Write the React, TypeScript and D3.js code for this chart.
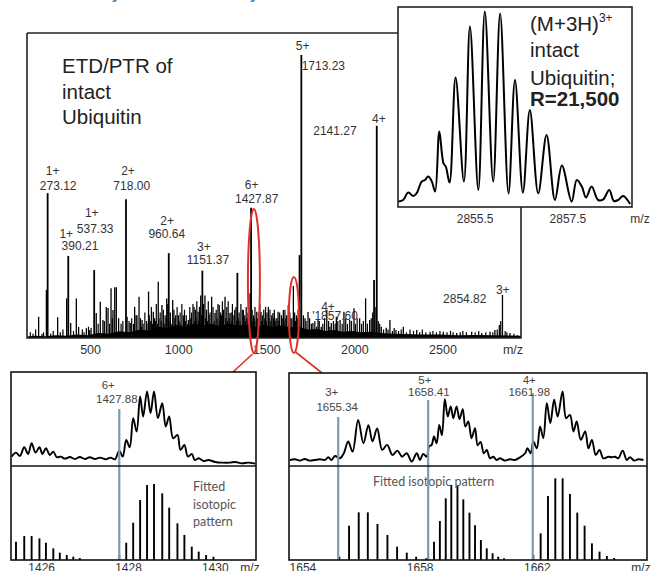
import * as d3 from "d3";

const FONT = "'Liberation Sans', Arial, sans-serif";

// ETD/PTR spectrum, [m/z, relative intensity %]
const mainPeaks: [number, number][] = [
  [222, 7.5], [241, 1.4], [266, 17], [273.12, 51.2], [330, 7.3], [381, 14], [390.21, 29],
  [404, 5.3], [436, 14], [449, 3.9], [493, 3.5], [512, 2.8], [537.33, 24], [549, 8.8],
  [572, 12.8], [587, 6.4], [606, 11], [616, 10.6], [633, 17.6], [644, 9.9], [654, 17.9],
  [663, 17.9], [676, 7], [718.0, 49], [724, 7.5], [742, 5.3], [767, 11], [780, 8],
  [792, 14.6], [809, 6.4], [846, 16.4], [873, 9.3], [901, 19.9], [922, 11.7], [949, 14],
  [960.64, 30], [983, 13.4], [1015, 8], [1043, 8], [1072, 6.4], [1104, 11], [1127, 9.3],
  [1142, 15], [1151.37, 23.8], [1166, 15], [1204, 14.6], [1223, 8.8], [1247, 11.7],
  [1280, 14.6], [1308, 8.8], [1350, 23], [1384, 9.9], [1422, 15.8], [1427.87, 46],
  [1460, 9.3], [1484, 9.2], [1526, 11], [1552, 8.8], [1581, 9.3], [1611, 9.9], [1639, 11.7],
  [1668, 18.4], [1703, 29.3], [1713.23, 100], [1734, 7], [1751, 9.2], [1779, 5.3],
  [1808, 6.4], [1826, 4], [1857.6, 9.9], [1883, 5.3], [1912, 7.5], [1933, 6.4], [1955, 9.3],
  [1988, 6.4], [2012, 10.5], [2044, 7], [2078, 14], [2101, 6.4], [2126, 20.5], [2141.27, 75],
  [2167, 4], [2195, 3.6], [2216, 6.4], [2250, 2.8], [2292, 4], [2368, 2.8], [2444, 2.2],
  [2519, 2.2], [2595, 1.8], [2680, 2.2], [2737, 1.8], [2784, 2.2], [2812, 2.8], [2837, 4.6],
  [2854.82, 15.2], [2897, 1.8],
];

// low-level grass between the labelled peaks
const grassPeaks: [number, number][] = [
  [175, 2], [190, 1.5], [205, 3], [250, 2], [290, 1.5], [305, 2.5], [345, 2], [360, 3],
  [420, 2.5], [470, 3], [480, 2], [505, 4], [520, 3.5], [560, 5], [595, 6], [625, 5],
  [640, 7], [690, 5], [700, 6], [735, 6], [750, 7], [760, 5], [775, 8], [800, 7], [815, 5],
  [825, 9], [835, 6], [850, 8], [862, 11], [880, 7], [890, 12], [912, 9], [930, 10],
  [940, 8], [955, 12], [970, 9], [990, 10], [1000, 8], [1008, 11], [1025, 9], [1035, 12],
  [1050, 10], [1060, 8], [1080, 11], [1090, 9], [1098, 12], [1112, 10], [1120, 13],
  [1135, 11], [1158, 12], [1175, 10], [1185, 13], [1195, 9], [1212, 11], [1230, 10],
  [1240, 12], [1255, 9], [1265, 13], [1272, 10], [1290, 11], [1298, 13], [1315, 9],
  [1322, 12], [1335, 10], [1342, 11], [1360, 9], [1370, 12], [1378, 10], [1392, 8],
  [1400, 11], [1410, 9], [1434, 10], [1442, 8], [1450, 11], [1470, 9], [1478, 12],
  [1492, 8], [1500, 10], [1510, 11], [1518, 9], [1535, 10], [1545, 8], [1560, 10],
  [1570, 7], [1590, 9], [1600, 8], [1620, 10], [1630, 8], [1648, 9], [1655, 7], [1675, 9],
  [1685, 8], [1695, 10], [1725, 8], [1740, 6], [1760, 7], [1770, 5], [1790, 6], [1800, 4],
  [1815, 6], [1835, 5], [1845, 7], [1868, 6], [1875, 4], [1895, 6], [1905, 5], [1920, 6],
  [1945, 5], [1965, 7], [1975, 5], [1998, 6], [2020, 5], [2030, 7], [2055, 5], [2065, 6],
  [2088, 5], [2110, 7], [2118, 9], [2132, 11], [2150, 6], [2158, 5], [2180, 3], [2205, 3],
  [2230, 2.5], [2240, 3.5], [2265, 2.5], [2280, 3], [2310, 2], [2330, 3], [2350, 2.5],
  [2385, 2], [2400, 3], [2420, 2], [2460, 2.5], [2480, 2], [2500, 2.5], [2540, 2],
  [2560, 2.5], [2575, 2], [2615, 2], [2630, 2.5], [2650, 2], [2700, 2], [2720, 2.5],
  [2760, 2], [2800, 2], [2825, 3], [2845, 6], [2870, 2.5], [2880, 2], [2920, 1.5], [2940, 1],
];

// finer grass filling the dense 800-1700 region
const grassFine: [number, number][] = [
  [805, 4], [843, 5], [856, 6], [868, 5], [885, 6], [896, 5], [905, 7], [918, 6], [935, 5],
  [946, 7], [962, 6], [978, 5], [995, 7], [1020, 6], [1030, 5], [1045, 7], [1055, 6],
  [1068, 5], [1085, 7], [1108, 6], [1116, 7], [1130, 6], [1147, 8], [1170, 7], [1180, 6],
  [1190, 8], [1218, 6], [1235, 7], [1250, 6], [1260, 8], [1285, 7], [1294, 6], [1304, 7],
  [1318, 6], [1330, 8], [1346, 6], [1355, 7], [1365, 6], [1388, 7], [1396, 6], [1405, 7],
  [1415, 8], [1438, 6], [1446, 7], [1456, 6], [1466, 7], [1488, 6], [1505, 7], [1514, 6],
  [1530, 7], [1540, 6], [1555, 7], [1565, 6], [1575, 7], [1585, 6], [1605, 7], [1615, 6],
  [1625, 7], [1643, 6], [1660, 7], [1680, 6], [1690, 7],
];

const noiseFloor: [number, number][] = [
  [156, 0.5], [200, 0.8], [260, 0.6], [320, 1], [380, 0.8], [440, 1.2], [500, 1],
  [560, 1.8], [620, 1.5], [680, 2.4], [740, 2], [800, 3], [850, 2.6], [900, 4], [950, 3.5],
  [1000, 4.6], [1050, 4], [1100, 5], [1150, 4.3], [1200, 5], [1250, 4.2], [1300, 5],
  [1350, 4.4], [1400, 4.8], [1450, 4], [1500, 4.6], [1550, 4], [1600, 4.4], [1650, 3.8],
  [1700, 4], [1750, 3], [1800, 3.2], [1850, 2.5], [1900, 2.8], [1950, 2.2], [2000, 2.5],
  [2050, 2], [2100, 2.2], [2200, 1.6], [2300, 1.4], [2400, 1.2], [2500, 1.2], [2600, 1],
  [2700, 1.1], [2800, 1], [2900, 0.9], [2960, 0.8],
];

const mainTicks = [500, 1000, 1500, 2000, 2500];

const peakLabels = [
  { mz: 273.12, z: "1+", text: "273.12" },
  { mz: 390.21, z: "1+", text: "390.21" },
  { mz: 537.33, z: "1+", text: "537.33" },
  { mz: 718.0, z: "2+", text: "718.00" },
  { mz: 960.64, z: "2+", text: "960.64" },
  { mz: 1151.37, z: "3+", text: "1151.37" },
  { mz: 1427.87, z: "6+", text: "1427.87" },
  { mz: 1713.23, z: "5+", text: "1713.23" },
  { mz: 1857.6, z: "4+", text: "'1857.60" },
  { mz: 2141.27, z: "4+", text: "2141.27" },
  { mz: 2854.82, z: "3+", text: "2854.82" },
];
// [dx charge, baseline charge, dx value, baseline value]
const labelPos = [
  [5, 175, 10.5, 190], [-2, 238, 11.7, 250], [-2.4, 216.7, 1, 232.7], [2, 175, 5.7, 190],
  [-1.7, 225, -2, 238.3], [1.6, 250.7, 5.6, 264], [0.6, 189.3, 5.6, 203.3], [1.3, 50, 22, 70],
  [1.2, 310.7, 8.2, 319.5], [2.2, 123, -41.8, 135], [0.3, 294, -37.7, 302.7],
];

// (M+3H)3+ isotope profile, [m/z, %]
const insetProfile: [number, number][] = [
  [2853.85, 2.7], [2853.95, 3.5], [2854.06, 7.2], [2854.17, 5.5], [2854.24, 6.8],
  [2854.35, 12.7], [2854.42, 13.5], [2854.49, 15.2], [2854.57, 12.7], [2854.64, 7.7],
  [2854.73, 37.7], [2854.82, 21.8], [2854.87, 20.2], [2854.95, 12.2], [2855.08, 64.8],
  [2855.26, 12.7], [2855.39, 90.2], [2855.57, 8.5], [2855.71, 97.7], [2855.89, 12.7],
  [2856.04, 96.8], [2856.22, 6.8], [2856.36, 63.5], [2856.53, 7.2], [2856.68, 48.5],
  [2856.86, 6.8], [2857.04, 36], [2857.22, 3.5], [2857.37, 20.7], [2857.58, 2.7],
  [2857.69, 13.5], [2857.8, 10.2], [2857.89, 4.8], [2858.01, 10.2], [2858.15, 3.5],
  [2858.26, 3.8], [2858.39, 8.5], [2858.49, 3], [2858.58, 3.5], [2858.69, 5.5], [2858.84, 1.5],
];
const insetTicks = [2855.5, 2857.5];

// zoom 1427 region
const leftProfile: [number, number][] = [
  [1425.4, 10], [1425.5, 14.2], [1425.59, 10.7], [1425.69, 19.9], [1425.78, 12.8],
  [1425.86, 24.2], [1425.95, 14.2], [1426.04, 19.9], [1426.11, 12.8], [1426.19, 18.9],
  [1426.28, 11.7], [1426.36, 15.3], [1426.44, 9.3], [1426.53, 10], [1426.63, 7.8],
  [1426.74, 9.6], [1426.86, 7.5], [1426.97, 9.6], [1427.09, 7.5], [1427.2, 9.3],
  [1427.32, 7.5], [1427.43, 8.9], [1427.57, 7.1], [1427.68, 8.9], [1427.78, 7.1],
  [1427.88, 16.4], [1427.96, 10], [1428.04, 27.8], [1428.12, 19.9], [1428.2, 50.9],
  [1428.28, 36.7], [1428.36, 74], [1428.43, 52.7], [1428.52, 79.4], [1428.6, 56.2],
  [1428.68, 79.4], [1428.77, 50.9], [1428.87, 66.9], [1428.95, 42], [1429.03, 52.7],
  [1429.12, 29.5], [1429.22, 33.1], [1429.29, 17.1], [1429.38, 22.4], [1429.46, 10],
  [1429.55, 12.8], [1429.62, 6.4], [1429.71, 8.2], [1429.82, 5.3], [1429.93, 6.4],
  [1430.09, 4.3], [1430.24, 3.6], [1430.43, 3.6], [1430.55, 4.3], [1430.7, 2.8],
  [1430.85, 3.6], [1431.01, 2.5],
];
const leftSticks: [number, number][] = [
  [1425.5, 19.5], [1425.69, 25.5], [1425.86, 25.5], [1426.04, 23], [1426.19, 18.4],
  [1426.36, 12.4], [1426.51, 7.8], [1426.67, 5.3], [1426.82, 3.5], [1426.97, 2.1],
  [1427.88, 5.3], [1428.04, 18.4], [1428.2, 39.7], [1428.36, 63.8], [1428.52, 79.8],
  [1428.68, 80.9], [1428.87, 70.9], [1429.03, 55.7], [1429.22, 39], [1429.38, 26.6],
  [1429.55, 14.2], [1429.71, 8.9], [1429.88, 5.3], [1430.05, 3.5],
];
const leftTicks = [1426, 1428, 1430];

// zoom 1655-1665 region
const rightProfile: [number, number][] = [
  [1653.69, 6.5], [1653.86, 7.2], [1654.03, 5.8], [1654.2, 7.6], [1654.37, 5.8],
  [1654.54, 6.5], [1654.71, 7.2], [1654.89, 6.5], [1655.0, 9.4], [1655.11, 6.5],
  [1655.23, 10.8], [1655.4, 8.3], [1655.53, 13.7], [1655.68, 26.3], [1655.83, 15.5],
  [1656.02, 49.6], [1656.2, 24.5], [1656.37, 43.9], [1656.51, 26.6], [1656.67, 40.3],
  [1656.84, 17.3], [1657.01, 22.7], [1657.19, 11.9], [1657.36, 16.5], [1657.52, 10],
  [1657.68, 13.7], [1657.85, 4.7], [1658.02, 13.7], [1658.13, 6.5], [1658.24, 12.9],
  [1658.36, 10], [1658.44, 20.9], [1658.53, 22.7], [1658.61, 31.7], [1658.7, 24.5],
  [1658.79, 44.2], [1658.88, 33.1], [1658.98, 71.9], [1659.08, 53.2], [1659.18, 64],
  [1659.27, 51.4], [1659.38, 64], [1659.48, 50.4], [1659.59, 61.2], [1659.68, 42.4],
  [1659.78, 47.8], [1659.89, 29.9], [1660.01, 40.6], [1660.1, 22.3], [1660.2, 25.9],
  [1660.31, 13.7], [1660.41, 17.3], [1660.52, 8.3], [1660.63, 10], [1660.75, 6.5],
  [1660.86, 8.3], [1661.03, 5.8], [1661.2, 7.2], [1661.37, 6.5], [1661.55, 9.4],
  [1661.72, 13.7], [1661.8, 19.1], [1661.91, 13.7], [1662.0, 26.3], [1662.12, 19.1],
  [1662.23, 42.4], [1662.34, 29.9], [1662.46, 67.6], [1662.58, 46], [1662.71, 71.2],
  [1662.83, 53.2], [1663.0, 80.2], [1663.12, 51.4], [1663.25, 55], [1663.37, 37.1],
  [1663.48, 47.8], [1663.62, 28.1], [1663.77, 37.1], [1663.88, 19.1], [1664.0, 28.1],
  [1664.13, 11.9], [1664.26, 17.3], [1664.39, 8.3], [1664.56, 10], [1664.68, 9.4],
  [1664.79, 10], [1664.9, 8.3], [1665.05, 16.5], [1665.19, 6.5], [1665.3, 9.4],
  [1665.44, 5.8], [1665.58, 7.2], [1665.76, 6.5],
];
const rightSticks: [number, number][] = [
  [1655.38, 3.5], [1655.71, 36.5], [1656.04, 50.7], [1656.35, 50.7], [1656.68, 38.3],
  [1657.02, 26.6], [1657.35, 14.2], [1657.68, 7.8], [1658.0, 3.5], [1658.34, 1.8],
  [1658.41, 3.5], [1658.61, 19.5], [1658.81, 41.5], [1659.01, 65.6], [1659.2, 79.8],
  [1659.41, 78.7], [1659.61, 64.5], [1659.82, 50.4], [1660.01, 36.9], [1660.21, 21.3],
  [1660.41, 12.4], [1660.61, 7.1], [1660.8, 3.5], [1661.0, 1.8],
  [1662.0, 5.3], [1662.25, 28.4], [1662.5, 68.1], [1662.75, 86.9], [1663.0, 86.9],
  [1663.25, 70.2], [1663.5, 50.4], [1663.75, 36.5], [1664.0, 17.7], [1664.26, 8.9],
  [1664.51, 4.3], [1664.76, 2.1],
];
const rightTicks = [1654, 1658, 1662];

const leftMarks = [{ mz: 1427.88, z: "6+", text: "1427.88" }];
const rightMarks = [
  { mz: 1655.34, z: "3+", text: "1655.34" },
  { mz: 1658.41, z: "5+", text: "1658.41" },
  { mz: 1661.98, z: "4+", text: "1661.98" },
];

const BLUE = "#7f9aab";
const RED = "#e0302a";
const INK = "#222";

const xMain = d3.scaleLinear().domain([156, 2960]).range([27, 521]);
const yMain = d3.scaleLinear().domain([0, 107.8]).range([338, 33]);
const xInset = d3.scaleLinear().domain([2853.84, 2858.88]).range([398, 632]);
const yInset = d3.scaleLinear().domain([0, 100]).range([207, 7]);
const xLeft = d3.scaleLinear().domain([1425.385, 1431.03]).range([11, 256]);
const xRight = d3.scaleLinear().domain([1653.66, 1665.88]).range([289, 647]);
const yUpL = d3.scaleLinear().domain([0, 100]).range([466, 372]);
const yUpR = d3.scaleLinear().domain([0, 100]).range([466, 373]);
const yLow = d3.scaleLinear().domain([0, 100]).range([560, 466]);

const profileLine = (x, y) =>
  d3
    .line<[number, number]>()
    .x((d) => x(d[0]))
    .y((d) => y(d[1]))
    .curve(d3.curveCatmullRom.alpha(0.5));

function ZoomPanel({ x, yUp, profile, sticks, ticks, marks, markTop, markLab, id, fitted }) {
  const [x0, x1] = x.range();
  const top = yUp.range()[1];
  return (
    <g>
      <clipPath id={id}>
        <rect x={x0} y={top} width={x1 - x0} height={466 - top} />
      </clipPath>
      <path
        d={profileLine(x, yUp)(profile)}
        fill="none"
        stroke="#000"
        strokeWidth={1.9}
        clipPath={`url(#${id})`}
      />
      {sticks.map(([mz, v], i) => (
        <line key={i} x1={x(mz)} x2={x(mz)} y1={yLow(0)} y2={yLow(v)} stroke="#000" strokeWidth={1.9} />
      ))}
      {fitted}
      {marks.map((m, i) => (
        <g key={i} fontFamily={FONT} fontSize={11.5} fill="#444" textAnchor="middle">
          <line x1={x(m.mz)} x2={x(m.mz)} y1={markTop[i]} y2={560} stroke={BLUE} strokeWidth={2.2} />
          <text x={x(m.mz) + markLab[i][0]} y={markLab[i][1]}>{m.z}</text>
          <text x={x(m.mz) + markLab[i][2]} y={markLab[i][3]}>{m.text}</text>
        </g>
      ))}
      <rect x={x0} y={top} width={x1 - x0} height={560 - top} fill="none" stroke="#111" strokeWidth={1.6} />
      <line x1={x0} x2={x1} y1={466} y2={466} stroke="#111" strokeWidth={1.6} />
      <g fontFamily={FONT} fontSize={12} fill="#333" textAnchor="middle">
        {ticks.map((t) => (
          <text key={t} x={x(t) + 4} y={572}>{t}</text>
        ))}
        <text x={x1 - 6} y={572}>m/z</text>
      </g>
    </g>
  );
}

export default function App() {
  const floorArea = d3
    .area<[number, number]>()
    .x((d) => xMain(d[0]))
    .y0(yMain(0))
    .y1((d) => yMain(d[1]));

  const stick = (w) => ([mz, v], i) => (
    <line key={i} x1={xMain(mz)} x2={xMain(mz)} y1={yMain(0)} y2={yMain(v)} stroke="#000" strokeWidth={w(v)} />
  );

  return (
    <svg
      width={662}
      height={571}
      style={{ position: "absolute", left: 0, top: 0, background: "#fff" }}
    >
      {/* cut-off title above */}
      <g fontFamily={FONT} fontSize={20} fill="#2e74b5">
        <text x={112} y={-2}>y</text>
        <text x={250} y={-2}>y</text>
      </g>

      {/* main spectrum */}
      <clipPath id="mainClip">
        <rect x={27} y={33} width={494} height={305} />
      </clipPath>
      <g clipPath="url(#mainClip)">
        <path d={floorArea(noiseFloor)} fill="#000" />
        <g>{grassPeaks.map(stick(() => 1.2))}</g>
        <g>{grassFine.map(stick(() => 1.1))}</g>
        <g>{mainPeaks.map(stick((v) => (v > 20 ? 1.8 : 1.3)))}</g>
      </g>
      <path d="M27,33V338H521V207" fill="none" stroke={INK} strokeWidth={1.6} />
      <line x1={27} x2={398} y1={33} y2={33} stroke={INK} strokeWidth={1.6} />

      <g fontFamily={FONT} fontSize={12.5} fill="#333" textAnchor="middle">
        {mainTicks.map((t) => (
          <text key={t} x={xMain(t) + 3} y={354}>{t}</text>
        ))}
        <text x={513} y={354}>m/z</text>
      </g>

      <g fontFamily={FONT} fontSize={12} fill="#333" textAnchor="middle">
        {peakLabels.map((p, i) => {
          const [dz, yz, dv, yv] = labelPos[i];
          return (
            <g key={p.text}>
              <text x={xMain(p.mz) + dz} y={yz}>{p.z}</text>
              <text x={xMain(p.mz) + dv} y={yv}>{p.text}</text>
            </g>
          );
        })}
      </g>

      <g fontFamily={FONT} fontSize={20.5} fill={INK}>
        <text x={62} y={73}>ETD/PTR of</text>
        <text x={62} y={98.5}>intact</text>
        <text x={62} y={124}>Ubiquitin</text>
      </g>

      {/* highlighted regions */}
      <ellipse cx={xMain(1444)} cy={281} rx={6} ry={72} fill="none" stroke={RED} strokeWidth={2} />
      <ellipse cx={xMain(1671)} cy={315} rx={5} ry={38} fill="none" stroke={RED} strokeWidth={2} />
      <line x1={xMain(1436)} y1={354} x2={233} y2={372} stroke={RED} strokeWidth={1.6} />
      <line x1={xMain(1680)} y1={352} x2={322} y2={373} stroke={RED} strokeWidth={1.6} />

      {/* inset */}
      <rect x={398} y={7} width={234} height={200} fill="#fff" />
      <clipPath id="insetClip">
        <rect x={398} y={7} width={234} height={200} />
      </clipPath>
      <path
        d={profileLine(xInset, yInset)(insetProfile)}
        fill="none"
        stroke="#000"
        strokeWidth={2}
        clipPath="url(#insetClip)"
      />
      <rect x={398} y={7} width={234} height={200} fill="none" stroke={INK} strokeWidth={1.6} />
      <g fontFamily={FONT} fontSize={12} fill="#333" textAnchor="middle">
        {insetTicks.map((t) => (
          <text key={t} x={xInset(t)} y={222.5}>{t}</text>
        ))}
        <text x={640} y={222.5}>m/z</text>
      </g>
      <g fontFamily={FONT} fontSize={20.5} fill={INK}>
        <text x={530} y={31}>
          (M+3H)<tspan fontSize={12} dy={-9}>3+</tspan>
        </text>
        <text x={530} y={57}>intact</text>
        <text x={530} y={85}>Ubiquitin;</text>
        <text x={530} y={106} fontWeight="bold">R=21,500</text>
      </g>

      {/* zoomed panels */}
      <ZoomPanel
        id="clipL"
        x={xLeft}
        yUp={yUpL}
        profile={leftProfile}
        sticks={leftSticks}
        ticks={leftTicks}
        marks={leftMarks}
        markTop={[409]}
        markLab={[[-11, 388.5, -2.5, 402.5]]}
        fitted={
          <g fontFamily="Lato, 'Open Sans', sans-serif" fontSize={12.5} fill="#555">
            <text x={193} y={490.5}>Fitted</text>
            <text x={193} y={508.5}>isotopic</text>
            <text x={193} y={526}>pattern</text>
          </g>
        }
      />
      <ZoomPanel
        id="clipR"
        x={xRight}
        yUp={yUpR}
        profile={rightProfile}
        sticks={rightSticks}
        ticks={rightTicks}
        marks={rightMarks}
        markTop={[417, 400, 393]}
        markLab={[
          [-6.5, 396, -1, 410.5],
          [-3.3, 384, 0.7, 396],
          [-3.5, 384, -3.5, 396],
        ]}
        fitted={
          <text x={373} y={486} fontFamily="Lato, 'Open Sans', sans-serif" fontSize={12.5} fill="#555">
            Fitted isotopic pattern
          </text>
        }
      />
    </svg>
  );
}
